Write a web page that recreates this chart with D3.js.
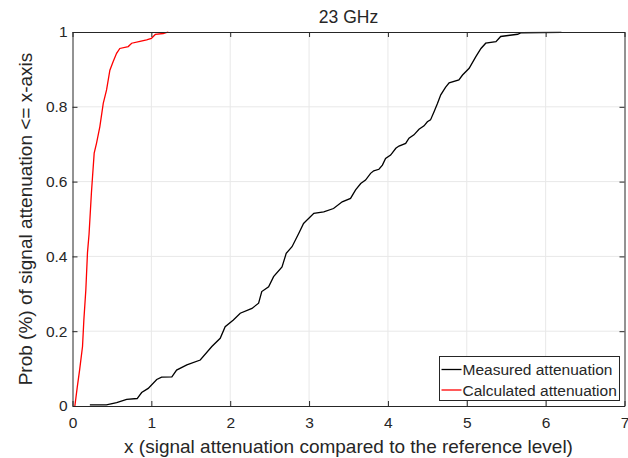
<!DOCTYPE html>
<html>
<head>
<meta charset="utf-8">
<script src="https://cdn.jsdelivr.net/npm/d3@7"></script>
<style>
  body { margin: 0; background: #fff; }
  text { font-family: "Liberation Sans", Arial, sans-serif; fill: #262626; }
</style>
</head>
<body>
<div id="chart"></div>
<script>
// values
const measuredX = [0.22, 0.43, 0.56, 0.687, 0.82, 0.877, 0.96, 1.068, 1.13, 1.26, 1.32, 1.45, 1.62, 1.767, 1.873, 1.936, 2.04, 2.127, 2.276, 2.36, 2.40, 2.487, 2.55, 2.657, 2.71, 2.784, 2.87, 2.93, 3.06, 3.186, 3.31, 3.42, 3.526, 3.59, 3.655, 3.716, 3.78, 3.82, 3.886, 3.93, 3.97, 4.034, 4.1, 4.14, 4.225, 4.267, 4.33, 4.394, 4.458, 4.50, 4.54, 4.585, 4.628, 4.67, 4.73, 4.776, 4.90, 4.946, 5.03, 5.115, 5.18, 5.24, 5.37, 5.43, 5.645, 5.69, 6.2];
const measuredY = [0.003, 0.003, 0.009, 0.018, 0.02, 0.036, 0.047, 0.071, 0.077, 0.078, 0.096, 0.11, 0.123, 0.159, 0.181, 0.212, 0.23, 0.248, 0.261, 0.275, 0.306, 0.319, 0.346, 0.372, 0.408, 0.426, 0.462, 0.488, 0.515, 0.519, 0.528, 0.546, 0.555, 0.578, 0.595, 0.604, 0.622, 0.629, 0.633, 0.644, 0.662, 0.671, 0.689, 0.695, 0.702, 0.716, 0.725, 0.74, 0.749, 0.76, 0.765, 0.787, 0.809, 0.832, 0.852, 0.864, 0.872, 0.885, 0.903, 0.934, 0.956, 0.97, 0.974, 0.988, 0.994, 0.998, 0.999];

const calcX = [0.03, 0.06, 0.09, 0.127, 0.144, 0.169, 0.19, 0.21, 0.24, 0.254, 0.275, 0.305, 0.347, 0.39, 0.432, 0.474, 0.516, 0.559, 0.6, 0.707, 0.75, 0.856, 0.94, 1.0, 1.05, 1.15, 1.215];
const calcY = [0, 0.05, 0.096, 0.159, 0.23, 0.31, 0.41, 0.46, 0.57, 0.613, 0.676, 0.703, 0.747, 0.809, 0.845, 0.898, 0.921, 0.943, 0.956, 0.961, 0.97, 0.975, 0.979, 0.983, 0.9935, 0.996, 1.0];

const xTicks = [0, 1, 2, 3, 4, 5, 6, 7];
const yTicks = [0, 0.2, 0.4, 0.6, 0.8, 1];
const yTickLabels = ["0", "0.2", "0.4", "0.6", "0.8", "1"];

const seriesNames = ["Measured attenuation", "Calculated attenuation"];
const seriesColors = ["#000000", "#ff0000"];

const W = 628, H = 458;
const margin = {left: 72.5, right: 3.5, top: 32, bottom: 52};

const svg = d3.select('#chart').append('svg')
    .attr('width', W)
    .attr('height', H);

const x = d3.scaleLinear().domain([0, 7]).range([margin.left, W - margin.right]);
const y = d3.scaleLinear().domain([0, 1]).range([H - margin.bottom, margin.top]);

// grid
svg.append('g').selectAll('line.gx')
    .data(xTicks.slice(1, -1))
    .enter().append('line')
    .attr('x1', d => x(d)).attr('x2', d => x(d))
    .attr('y1', y(0)).attr('y2', y(1))
    .attr('stroke', '#e8e8e8').attr('stroke-width', 1);
svg.append('g').selectAll('line.gy')
    .data(yTicks.slice(1, -1))
    .enter().append('line')
    .attr('y1', d => y(d)).attr('y2', d => y(d))
    .attr('x1', x(0)).attr('x2', x(7))
    .attr('stroke', '#e8e8e8').attr('stroke-width', 1);

// curves
const line = d3.line().x(d => x(d[0])).y(d => y(d[1]));
const measured = measuredX.map((v, i) => [v, measuredY[i]]);
const calculated = calcX.map((v, i) => [v, calcY[i]]);

svg.append('path').datum(measured)
    .attr('d', line)
    .attr('fill', 'none')
    .attr('stroke', seriesColors[0])
    .attr('stroke-width', 1.3);
svg.append('path').datum(calculated)
    .attr('d', line)
    .attr('fill', 'none')
    .attr('stroke', seriesColors[1])
    .attr('stroke-width', 1.3);

// axes (inward ticks, mirrored on top/right)
const axisColor = '#262626';
function styleAxis(g) {
    g.select('.domain').attr('stroke', axisColor);
    g.selectAll('.tick line').attr('stroke', axisColor);
    g.selectAll('.tick text')
        .style('font-family', '"Liberation Sans", Arial, sans-serif')
        .style('font-size', '15.5px')
        .attr('fill', axisColor);
}

svg.append('g')
    .attr('transform', 'translate(0,' + y(0) + ')')
    .call(d3.axisBottom(x).tickValues(xTicks).tickFormat(d3.format('d'))
        .tickSizeInner(-5).tickSizeOuter(0).tickPadding(11))
    .call(styleAxis);

svg.append('g')
    .attr('transform', 'translate(0,' + y(1) + ')')
    .call(d3.axisTop(x).tickValues(xTicks).tickFormat('')
        .tickSizeInner(-5).tickSizeOuter(0))
    .call(styleAxis);

svg.append('g')
    .attr('transform', 'translate(' + x(0) + ',0)')
    .call(d3.axisLeft(y).tickValues(yTicks).tickFormat((d, i) => yTickLabels[i])
        .tickSizeInner(-5).tickSizeOuter(0).tickPadding(5))
    .call(styleAxis);

svg.append('g')
    .attr('transform', 'translate(' + x(7) + ',0)')
    .call(d3.axisRight(y).tickValues(yTicks).tickFormat('')
        .tickSizeInner(-5).tickSizeOuter(0))
    .call(styleAxis);

// title and labels
svg.append('text')
    .attr('x', (x(0) + x(7)) / 2)
    .attr('y', 22.5)
    .attr('text-anchor', 'middle')
    .style('font-size', '17.5px')
    .attr('fill', '#000')
    .text('23 GHz');

svg.append('text')
    .attr('x', (x(0) + x(7)) / 2)
    .attr('y', 453)
    .attr('text-anchor', 'middle')
    .style('font-size', '19px')
    .text('x (signal attenuation compared to the reference level)');

svg.append('text')
    .attr('transform', 'translate(32,' + ((y(0) + y(1)) / 2) + ') rotate(-90)')
    .attr('text-anchor', 'middle')
    .style('font-size', '19px')
    .text('Prob (%) of signal attenuation <= x-axis');

// legend
const lg = svg.append('g').attr('transform', 'translate(439.5,356.5)');
lg.append('rect')
    .attr('width', 180).attr('height', 44)
    .attr('fill', '#fff')
    .attr('stroke', axisColor)
    .attr('stroke-width', 1);
seriesNames.forEach(function (name, i) {
    const row = lg.append('g').attr('transform', 'translate(0,' + (13 + i * 20.5) + ')');
    row.append('line')
        .attr('x1', 2).attr('x2', 22)
        .attr('stroke', seriesColors[i]).attr('stroke-width', 1.3);
    row.append('text')
        .attr('x', 23).attr('y', 5.5)
        .style('font-size', '15.5px')
        .attr('fill', '#000')
        .text(name);
});
</script>
</body>
</html>
